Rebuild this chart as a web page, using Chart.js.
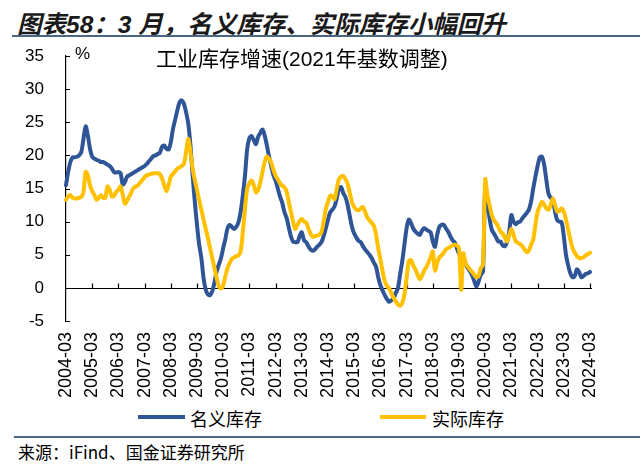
<!DOCTYPE html>
<html>
<head>
<meta charset="utf-8">
<script src="https://cdn.jsdelivr.net/npm/chart.js@4"></script>
<style>
  body { margin: 0; background: #fff; }
  #page { position: relative; width: 640px; height: 465px; overflow: hidden; font-family: "Liberation Sans", "Noto Sans CJK SC", sans-serif; color: #000; }
  #title { position: absolute; left: 17px; top: 5px; font-size: 24.5px; font-weight: bold; font-style: italic; color: #1a1a1a; white-space: nowrap; }
  .rule { position: absolute; left: 12px; right: 0; height: 2px; background: #4a6685; }
  #wrap { position: absolute; left: 0; top: 0; width: 640px; height: 404px; }
  #inner { position: absolute; left: 156px; top: 42px; font-size: 21px; white-space: nowrap; font-family: "Liberation Sans", "Noto Sans CJK SC", sans-serif; }
  #pct { position: absolute; left: 75px; top: 44px; font-size: 17px; }
  .sw { position: absolute; height: 4px; top: 415px; }
  .lt { position: absolute; top: 405px; font-size: 18px; font-family: "Noto Sans CJK SC", sans-serif; white-space: nowrap; }
  #src { position: absolute; left: 18px; top: 439px; font-size: 17px; font-family: "Noto Sans CJK SC", sans-serif; white-space: nowrap; }
</style>
</head>
<body>
<div id="page">
  <div id="title">图表58：3 月，名义库存、实际库存小幅回升</div>
  <div class="rule" style="top:35px"></div>
  <div id="wrap"><canvas id="invChart"></canvas></div>
  <div id="inner">工业库存增速(2021年基数调整)</div>
  <div id="pct">%</div>
  <div class="sw" style="left:138px;width:47px;background:#2F5597"></div>
  <div class="lt" style="left:190px">名义库存</div>
  <div class="sw" style="left:380px;width:46px;background:#FFC000"></div>
  <div class="lt" style="left:432px">实际库存</div>
  <div class="rule" style="top:436px;left:14px"></div>
  <div id="src">来源：iFind、国金证券研究所</div>
</div>
<script>
// tick labels (every March)
const tickYears = ['2004-03', '2005-03', '2006-03', '2007-03', '2008-03', '2009-03', '2010-03',
  '2011-03', '2012-03', '2013-03', '2014-03', '2015-03', '2016-03', '2017-03', '2018-03',
  '2019-03', '2020-03', '2021-03', '2022-03', '2023-03', '2024-03'];

// monthly categories 2004-03 .. 2024-03
const months = [];
for (let y = 2004; y <= 2024; y++) {
  for (let mo = 1; mo <= 12; mo++) {
    if (y === 2004 && mo < 3) continue;
    if (y === 2024 && mo > 3) break;
    months.push(y + '-' + String(mo).padStart(2, '0'));
  }
}

const seriesNames = ['名义库存', '实际库存'];

// 名义库存 yoy, %  (rows start in March)
const nominal = [
  15.5, 17.5, 19.0, 19.7, 19.7, 19.8, 20.0, 20.5, 22.5, 24.4, 23.0, 21.0,
  19.8, 19.5, 19.3, 19.2, 19.0, 19.0, 18.8, 18.6, 18.4, 18.0, 17.5, 17.4,
  17.5, 17.3, 15.6, 16.0, 16.8, 17.0, 17.2, 17.4, 17.6, 17.8, 18.0, 18.2,
  18.4, 18.7, 19.1, 19.5, 19.9, 20.0, 20.2, 20.4, 21.3, 21.5, 21.0, 20.9,
  22.0, 24.0, 25.4, 26.8, 28.0, 28.3, 27.8, 26.5, 24.8, 21.5, 17.0, 13.0,
  9.5, 6.5, 4.5, 1.5, -0.3, -1.0, -1.1, -0.5, 0.8, 2.5, 3.5, 4.5,
  6.0, 7.4, 9.0, 9.5, 9.2, 8.9, 9.2, 9.9, 11.5, 14.0, 17.0, 21.0,
  22.6, 22.9, 22.3, 21.7, 22.8, 23.4, 23.9, 23.0, 21.5, 19.8, 18.4, 17.0,
  16.2, 15.0, 13.8, 12.9, 11.5, 10.6, 9.2, 7.8, 7.0, 6.9, 6.9, 7.8,
  8.4, 7.2, 6.9, 6.3, 5.8, 5.6, 5.8, 6.2, 6.5, 6.9, 7.8, 9.0,
  10.3, 11.4, 11.8, 12.3, 13.5, 15.0, 15.2, 14.3, 13.7, 12.5, 10.8, 9.2,
  8.2, 7.6, 7.1, 6.9, 6.3, 5.8, 5.4, 5.0, 4.5, 3.8, 3.2, 1.6,
  0.4, -0.4, -1.1, -1.7, -2.1, -1.9, -1.6, -0.8, -0.1, 2.0, 4.0, 6.5,
  9.0, 10.3, 9.8, 9.0, 8.5, 8.2, 8.0, 8.6, 9.0, 8.8, 8.6, 8.4,
  7.0, 6.2, 8.0, 9.2, 9.5, 9.5, 9.0, 8.5, 7.8, 7.2, 6.9, 6.0,
  5.2, 4.9, 4.2, 3.6, 3.0, 2.5, 1.9, 1.0, 0.2, 1.0, 2.0, 2.5,
  15.2, 13.0, 10.5, 8.8, 8.2, 7.6, 7.0, 7.0, 6.4, 6.3, 6.9, 8.5,
  11.0, 10.0, 9.6, 9.9, 10.0, 10.5, 10.9, 11.3, 11.8, 13.0, 15.0, 16.8,
  18.4, 19.7, 19.8, 18.6, 16.3, 14.2, 13.6, 13.4, 11.5, 10.2, 10.0, 9.9,
  7.8, 5.0, 3.4, 2.2, 1.6, 1.8, 2.8, 2.4, 1.6, 1.8, 2.1, 2.2,
  2.4
];

// 实际库存 yoy, %
const real = [
  13.3, 13.8, 14.0, 13.6, 13.5, 13.5, 13.6, 13.7, 14.5, 17.5, 17.0, 15.5,
  14.6, 14.0, 13.3, 13.6, 14.0, 13.6, 13.6, 15.3, 14.8, 13.8, 13.9, 14.5,
  14.8, 15.3, 14.0, 12.7, 13.2, 13.8, 14.5, 15.1, 15.3, 15.5, 15.9, 16.3,
  16.7, 17.0, 17.1, 17.2, 17.3, 17.3, 17.3, 17.2, 16.5, 15.5, 14.6, 15.5,
  16.8, 17.2, 17.6, 18.0, 18.2, 18.4, 18.7, 20.5, 22.5, 20.5, 18.0, 16.3,
  14.8, 13.2, 11.8, 10.3, 8.9, 7.5, 6.0, 4.5, 3.0, 1.5, 0.2, -0.1,
  0.4, 1.8, 3.0, 3.8, 4.4, 4.6, 4.8, 4.9, 5.5, 8.5, 12.0, 15.0,
  15.8, 16.2, 15.5, 14.4, 14.8, 15.9, 17.5, 19.0, 19.8, 19.5, 18.9, 17.8,
  16.9, 16.4, 15.8, 15.4, 15.2, 14.6, 13.0, 11.5, 10.0, 8.9, 9.5, 10.1,
  10.4, 10.0, 9.9, 9.0, 8.2, 7.7, 7.8, 7.9, 8.0, 8.4, 10.0, 11.9,
  13.0, 13.9, 13.8, 13.4, 15.0, 16.4, 16.8, 16.9, 16.4, 15.7, 14.3, 12.9,
  12.2, 11.8, 11.7, 12.0, 12.2, 11.5, 10.6, 10.2, 9.8, 9.4, 8.0, 6.0,
  4.3, 2.5, 1.0, 0.3, -0.1, -0.8, -1.5, -2.0, -2.5, -2.7, -2.3, -1.0,
  1.5, 4.0, 4.2, 3.4, 2.8, 2.0, 1.3, 1.8, 2.6, 3.1, 3.8, 4.6,
  5.5, 2.6, 3.8, 4.6, 4.9, 5.3, 5.8, 6.0, 6.2, 6.4, 6.5, 6.4,
  6.0, -0.3, 5.2, 3.8, 3.2, 2.8, 2.4, 2.0, 1.6, 1.8, 3.0, 3.5,
  16.4, 14.0, 12.5, 11.0, 10.2, 9.8, 9.2, 8.5, 8.2, 7.6, 7.0, 8.0,
  8.9, 8.0, 7.0, 6.8, 6.6, 6.3, 5.8, 5.4, 5.6, 6.5, 7.3, 9.5,
  11.5, 12.3, 13.0, 12.6, 12.0, 11.8, 12.6, 13.5, 12.5, 11.5, 11.6, 12.0,
  11.5, 10.3, 8.8, 7.3, 6.0, 5.3, 4.8, 4.5, 4.5, 4.6, 4.9, 5.1,
  5.3
];

// zero line + inward tick marks
const axisMarks = {
  id: 'axisMarks',
  beforeDatasetsDraw(chart) {
    const { ctx, chartArea, scales: { x, y } } = chart;
    const y0 = Math.round(y.getPixelForValue(0)) + 0.5;
    ctx.save();
    ctx.strokeStyle = '#000';
    ctx.lineWidth = 1.2;
    ctx.beginPath();
    ctx.moveTo(chartArea.left, y0);
    ctx.lineTo(chartArea.right + 2, y0);
    months.forEach((m, i) => {
      if (i % 12 !== 0 || i === 0) return;
      const px = Math.round(x.getPixelForValue(i)) + 0.5;
      ctx.moveTo(px, y0);
      ctx.lineTo(px, y0 - 5);
    });
    y.ticks.forEach(t => {
      const py = Math.round(y.getPixelForValue(t.value)) + 0.5;
      ctx.moveTo(chartArea.left, py);
      ctx.lineTo(chartArea.left + 4, py);
    });
    ctx.stroke();
    ctx.restore();
  }
};

new Chart(document.getElementById('invChart'), {
  type: 'line',
  data: {
    labels: months,
    datasets: [
      { label: seriesNames[0], data: nominal, borderColor: '#2F5597', borderWidth: 4, order: 2 },
      { label: seriesNames[1], data: real, borderColor: '#FFC000', borderWidth: 4, order: 1 }
    ]
  },
  options: {
    responsive: true,
    maintainAspectRatio: false,
    animation: false,
    events: [],
    elements: {
      point: { radius: 0 },
      line: { tension: 0.3, fill: false, borderCapStyle: 'round', borderJoinStyle: 'round' }
    },
    layout: { padding: { top: 56, right: 50, left: 0, bottom: 0 } },
    plugins: { legend: { display: false }, tooltip: { enabled: false } },
    scales: {
      x: {
        offset: false,
        grid: { display: false, drawTicks: false },
        border: { display: false },
        afterFit: s => { s.height = 83; },
        ticks: {
          autoSkip: false,
          minRotation: 90,
          maxRotation: 90,
          padding: 11,
          color: '#000',
          font: { family: 'Liberation Sans', size: 18 },
          callback: (v, i) => (i % 12 === 0 ? tickYears[i / 12] : null)
        }
      },
      y: {
        min: -5,
        max: 35,
        grid: { display: false, drawTicks: false },
        border: { display: true, color: '#000', width: 1.2 },
        afterFit: s => { s.width = 66; },
        ticks: {
          stepSize: 5,
          padding: 22,
          color: '#000',
          font: { family: 'Liberation Sans', size: 17 }
        }
      }
    }
  },
  plugins: [axisMarks]
});
</script>
</body>
</html>
